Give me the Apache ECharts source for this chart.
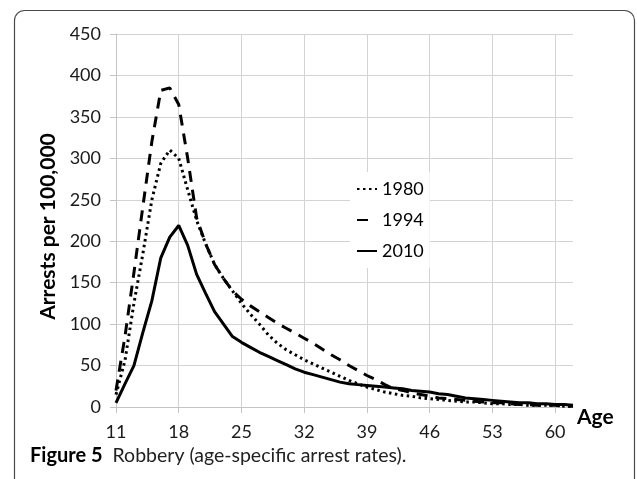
<!DOCTYPE html>
<html>
<head>
<meta charset="utf-8">
<script src="https://cdn.jsdelivr.net/npm/echarts@6/dist/echarts.min.js"></script>
<style>
html,body{margin:0;padding:0;background:#fff;}
#c{width:637px;height:479px;}
</style>
</head>
<body>
<div id="c"></div>
<script>
// Ages (x-axis categories)
var ages = ['11','12','13','14','15','16','17','18','19','20',
            '21','22','23','24','25','26','27','28','29','30',
            '31','32','33','34','35','36','37','38','39','40',
            '41','42','43','44','45','46','47','48','49','50',
            '51','52','53','54','55','56','57','58','59','60',
            '61','62'];

// Arrests per 100,000
var r1980 = [15,56,125,185,250,294,310,300,262,225,
             197,172,155,140,125,112,100,87,77,69,
             63,57,52,47,42,37,32,28,24,21,
             18,16,14,13,11,10,9,8,7,6,
             6,5,4,4,3,3,2,2,2,2,
             1,1];
var r1994 = [20,85,162,242,320,382,385,365,300,228,
             197,172,155,140,130,122,115,108,101,95,
             89,83,77,70,63,57,50,44,38,33,
             27,22,20,17,15,13,11,10,9,8,
             7,6,5,5,4,3,3,2,2,2,
             1,1];
var r2010 = [5,28,50,90,128,180,205,219,195,160,
             137,115,100,85,78,72,66,61,56,51,
             46,42,39,36,33,30,28,27,26,25,
             24,23,22,20,19,18,16,15,13,11,
             10,9,8,7,6,5,5,4,4,3,
             3,2];

var seriesNames = ['1980','1994','2010'];
var yTicks = {min:0, max:450, step:50};
var xLabelStep = 7;
var captionBold = 'Figure 5';
var captionText = 'Robbery (age-specific arrest rates).';
var yTitle = 'Arrests per 100,000';
var xTitle = 'Age';

var FONT = 'Lato, "Open Sans", sans-serif';
var gridColor = '#d3d3d3';

var chart = echarts.init(document.getElementById('c'), null, {renderer:'canvas'});
chart.setOption({
  animation:false,
  backgroundColor:'#fff',
  textStyle:{fontFamily:FONT},
  grid:{left:116, right:64, top:34, bottom:72, containLabel:false},
  legend:{
    orient:'vertical', left:350, top:172,
    padding:[7,6,7,6], backgroundColor:'#fff',
    itemWidth:20, itemHeight:14, itemGap:11,
    itemStyle:{opacity:0},
    textStyle:{fontSize:18, lineHeight:20, color:'#000', fontFamily:FONT},
    data:[
      {name:seriesNames[0]},
      {name:seriesNames[1], lineStyle:{type:[11,12]}},
      {name:seriesNames[2]}
    ]
  },
  xAxis:{
    type:'category', data:ages, boundaryGap:false,
    name:xTitle, nameLocation:'end', nameGap:4,
    nameTextStyle:{fontSize:21, fontWeight:'bold', color:'#000', align:'left', verticalAlign:'top', fontFamily:FONT},
    axisLine:{show:true, lineStyle:{color:'#c4c4c4', width:1}},
    axisTick:{show:true, interval:xLabelStep-1, length:6, lineStyle:{color:'#c4c4c4'}},
    axisLabel:{interval:xLabelStep-1, fontSize:18, color:'#1a1a1a', margin:16, fontFamily:FONT},
    splitLine:{show:true, interval:xLabelStep-1, lineStyle:{color:gridColor, width:1}}
  },
  yAxis:{
    type:'value', min:yTicks.min, max:yTicks.max, interval:yTicks.step,
    name:yTitle, nameLocation:'middle', nameGap:54,
    nameTextStyle:{fontSize:21, fontWeight:'bold', color:'#000', fontFamily:FONT, padding:[0,12,0,0]},
    axisLine:{show:true, lineStyle:{color:'#c4c4c4', width:1}},
    axisTick:{show:true, length:6, lineStyle:{color:'#c4c4c4'}},
    axisLabel:{fontSize:18, color:'#1a1a1a', margin:15, fontFamily:FONT},
    splitLine:{show:true, lineStyle:{color:gridColor, width:1}}
  },
  series:[
    {name:seriesNames[0], type:'line', data:r1980, symbol:'none', z:3,
     lineStyle:{color:'#000', width:3, type:[2.5,3.5]}, itemStyle:{color:'#000'}},
    {name:seriesNames[1], type:'line', data:r1994, symbol:'none', z:3,
     lineStyle:{color:'#000', width:3, type:[11,8]}, itemStyle:{color:'#000'}},
    {name:seriesNames[2], type:'line', data:r2010, symbol:'none', z:4,
     lineStyle:{color:'#000', width:3, type:'solid'}, itemStyle:{color:'#000'}}
  ],
  graphic:[
    {type:'rect', shape:{x:14.5, y:10.5, width:620, height:490, r:10},
     style:{fill:'none', stroke:'#4a4a4a', lineWidth:1.2}, silent:true, z:0},
    {type:'text', left:30, top:446,
     style:{
       text:'{b|'+captionBold+'}   {n|'+captionText+'}',
       rich:{
         b:{fontSize:20, fontWeight:'bold', fill:'#000', fontFamily:FONT},
         n:{fontSize:19.5, fill:'#222', fontFamily:FONT}
       }
     }}
  ]
});
</script>
</body>
</html>
